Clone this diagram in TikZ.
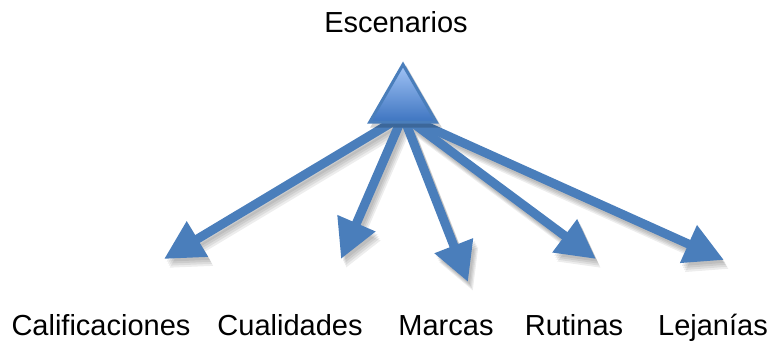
\documentclass[tikz,border=0pt]{standalone}
\usepackage{fontspec}
\setmainfont{Liberation Sans}
\usetikzlibrary{arrows.meta,shapes.geometric,backgrounds}
\definecolor{arrowblue}{HTML}{4A7EBB}
\definecolor{trilight}{HTML}{A2C4F6}
\definecolor{tridark}{HTML}{3D74C0}
\begin{document}
\begin{tikzpicture}[x=1pt,y=-1pt,
  lbl/.style={font=\fontsize{29}{32}\selectfont, inner sep=0pt, anchor=base, text=black},
  conn/.style={draw=arrowblue, line width=9pt, -{Triangle[length=39pt,width=39pt,fill=arrowblue]}},
  shadowconn/.style={draw=black, line width=9pt, -{Triangle[length=39pt,width=39pt,fill=black]}},
  tristyle/.style={regular polygon, regular polygon sides=3, minimum size=77pt, inner sep=0pt,
    draw=arrowblue, line width=3pt, top color=trilight, bottom color=tridark}]
\useasboundingbox (0,0) rectangle (777,347);
% title
\node[lbl] (title) at (396,33) {Escenarios};
% triangle
\begin{scope}[transparency group, opacity=0.18]
  \node[tristyle, draw=black, fill=black, top color=black, bottom color=black] at (406,107) {};
\end{scope}
\node[tristyle] (tri) at (403,103) {};
% tips
\coordinate (t1) at (164,259);
\coordinate (t2) at (341,259);
\coordinate (t3) at (468,282);
\coordinate (t4) at (596,259);
\coordinate (t5) at (724,260);
\coordinate (hub) at ([yshift=8pt]tri.south);
% labels
\node[lbl] (l1) at (101,336) {Calificaciones};
\node[lbl] (l2) at (290,336) {Cualidades};
\node[lbl] (l3) at (446,336) {Marcas};
\node[lbl] (l4) at (574,336) {Rutinas};
\node[lbl] (l5) at (713,336) {Lejanías};
\begin{scope}[on background layer]
  \foreach \dx/\dy in {2/3,3/5,4/7,5/9}{
    \begin{scope}[transparency group, opacity=0.07]
      \foreach \t in {t1,t2,t3,t4,t5}{
        \draw[shadowconn] ([shift={(\dx pt,-\dy pt)}]hub) -- ([shift={(\dx pt,-\dy pt)}]\t);
      }
    \end{scope}
  }
  \foreach \t in {t1,t2,t3,t4,t5}{
    \draw[conn] (hub) -- (\t);
  }
\end{scope}
\end{tikzpicture}
\end{document}
